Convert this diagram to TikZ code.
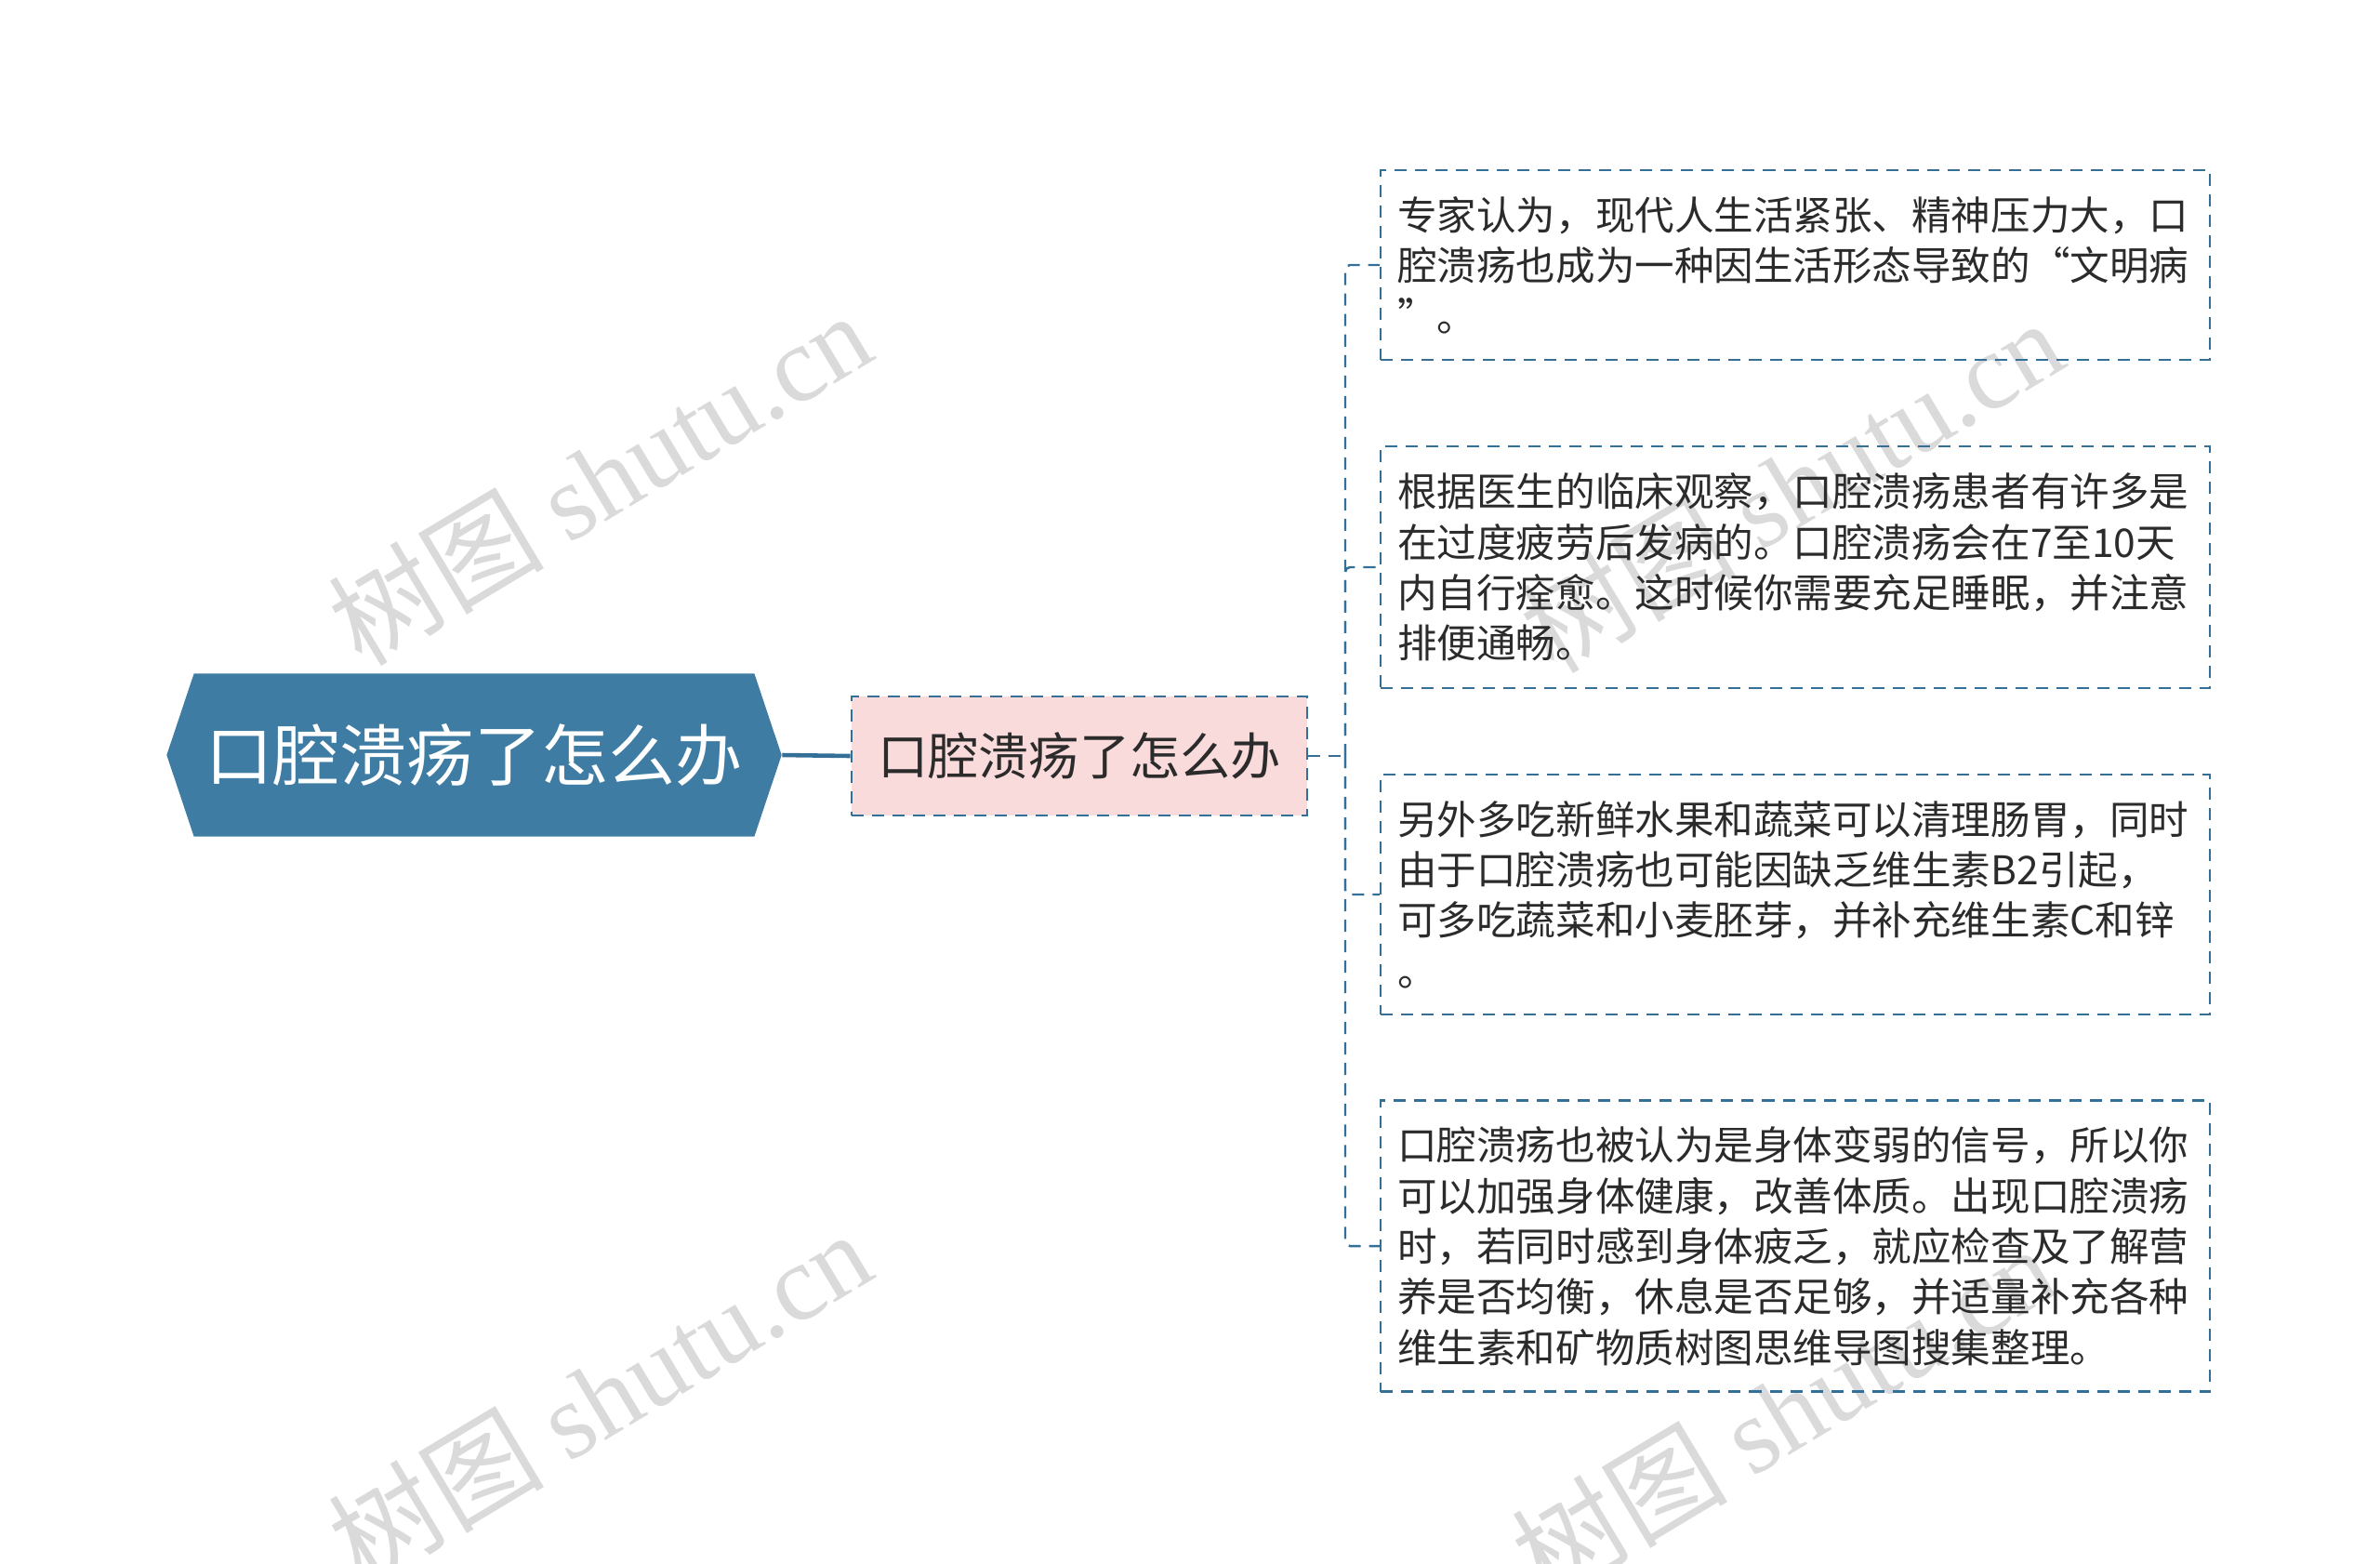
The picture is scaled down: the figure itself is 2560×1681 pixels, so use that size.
\documentclass[tikz,border=0pt]{standalone}
\usepackage{fontspec}
\setmainfont{Noto Sans CJK SC}
\newfontfamily\wmfont{Liberation Serif}
\usetikzlibrary{shapes.symbols}
\definecolor{rootblue}{HTML}{3E7CA3}
\definecolor{linkblue}{HTML}{336F97}
\definecolor{boxpink}{HTML}{FADBDB}
\definecolor{wmgray}{HTML}{DADADA}
\definecolor{textdark}{HTML}{2B2B2B}
\begin{document}
\begin{tikzpicture}[x=0.01cm,y=-0.01cm,
  dashline/.style={line width=0.7pt,dash pattern=on 0.13cm off 0.09cm},
  link/.style={draw=linkblue,dashline},
  wmark/.style={text=wmgray,rotate=31,inner sep=0,font=\fontsize{33pt}{33pt}\selectfont},
  rootnode/.style={signal,signal to=west and east,signal pointer angle=143,
    fill=rootblue,text=white,minimum width=6.61cm,minimum height=1.75cm,inner sep=0,
    font=\fontsize{20.5pt}{24pt}\selectfont},
  midnode/.style={draw=linkblue,dashline,fill=boxpink,text=textdark,
    minimum width=4.9cm,minimum height=1.28cm,font=\fontsize{15.4pt}{18pt}\selectfont},
  leafnode/.style={draw=linkblue,dashline,text=textdark,minimum width=8.91cm,
    text width=8.55cm,align=left,font=\fontsize{12.1pt}{15.45pt}\selectfont}]
\useasboundingbox (0,0) rectangle (2560,1681);
% watermarks
\foreach \x/\y in {645/514,645/1502,1927/522,1918/1518}
\node[wmark] (wm-\x-\y) at (\x,\y) {树图 {\wmfont shutu.cn}};
% root and subtopic
\node[rootnode] (root) at (510,812) {口腔溃疡了怎么办};
\node[midnode] (mid) at (1161,813) {口腔溃疡了怎么办};
% leaves
\node[leafnode,minimum height=2.04cm] (leaf1) at (1931,285)
  {专家认为，现代人生活紧张、精神压力大，口\\腔溃疡也成为一种因生活形态导致的“文明病\\”。};
\node[leafnode,minimum height=2.60cm] (leaf2) at (1931,610)
  {根据医生的临床观察，口腔溃疡患者有许多是\\在过度疲劳后发病的。口腔溃疡会在7至10天\\内自行痊愈。这时候你需要充足睡眠，并注意\\排便通畅。};
\node[leafnode,minimum height=2.58cm] (leaf3) at (1931,962)
  {另外多吃新鲜水果和蔬菜可以清理肠胃，同时\\由于口腔溃疡也可能因缺乏维生素B2引起，\\可多吃蔬菜和小麦胚芽，并补充维生素C和锌\\。};
\node[leafnode,minimum height=3.13cm] (leaf4) at (1931,1340)
  {口腔溃疡也被认为是身体变弱的信号，所以你\\可以加强身体健康，改善体质。出现口腔溃疡\\时，若同时感到身体疲乏，就应检查及了解营\\养是否均衡，休息是否足够，并适量补充各种\\维生素和矿物质树图思维导图搜集整理。};
% connectors
\draw[draw=linkblue,line width=1.3pt] (root.east) -- (mid.west);
\coordinate (trunk) at (1447,813);
\draw[link] (mid.east) -- (trunk);
\foreach \i in {1,...,4}
\draw[link,rounded corners=0.05cm] (trunk) |- (leaf\i.west);
\end{tikzpicture}
\end{document}
